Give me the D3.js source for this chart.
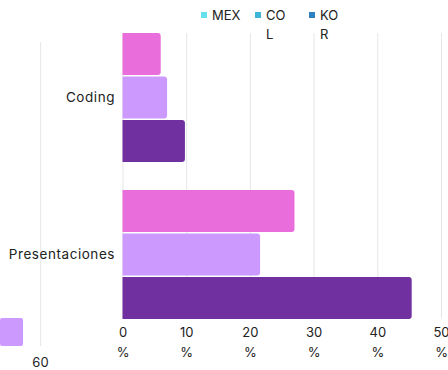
<!DOCTYPE html>
<html lang="en">
	<head>
		<meta charset="utf-8">
		<title>bars</title>
		<script src="https://d3js.org/d3.v7.min.js"></script>
		<style type="text/css">
		body { margin: 0; background: #fff; }
		text {
				font-family: Inter, "Noto Sans", sans-serif;
				font-size: 13px;
				fill: #222;
		}
		.grid line { stroke: #e6e6e6; stroke-width: 1; }
		.grid path { display: none; }
		</style>
	</head>
	<body>
		<script type="text/javascript">

					//Width and height
					var w = 448;
					var h = 370;

					// data
					var categories = ["Coding", "Presentaciones"];
					var series = ["MEX", "COL", "KOR"];
					var mex = [6, 27];
					var col = [7, 21.6];
					var kor = [9.8, 45.4];
					var xTicks = [0, 10, 20, 30, 40, 50];
					var legendColors = ["#66e0ec", "#3fb4d8", "#2e80bf"];
					var barColors = ["#ea6ddc", "#cc99ff", "#7030a0"];

					var values = [mex, col, kor];

					var x = d3.scaleLinear()
					.domain([0, 50])
					.range([122.5, 441]);

					var y = d3.scaleBand()
					.domain(categories)
					.range([33, 319])
					.paddingInner(0.178)
					.paddingOuter(0);

					var ySub = d3.scaleBand()
					.domain(series)
					.range([0, y.bandwidth()])
					.paddingInner(0.035);

					//Create SVG element
					var svg = d3.select("body")
					.append("svg")
					.attr("width", w)
					.attr("height", h);

					// grid lines
					svg.append("g")
					.attr("class", "grid")
					.attr("transform", "translate(0,33)")
					.call(d3.axisTop(x).tickValues(xTicks).tickSize(-285).tickFormat(""));

					// the 60 tick that wrapped to the left side
					var wrapX = x(60) - 464;
					svg.append("line")
					.attr("x1", wrapX).attr("x2", wrapX)
					.attr("y1", 42).attr("y2", 346)
					.attr("stroke", "#e6e6e6");
					svg.append("text")
					.attr("x", wrapX)
					.attr("y", 367)
					.attr("text-anchor", "middle")
					.style("letter-spacing", "0.3px")
					.text("60");

					// stray swatch at bottom left
					svg.append("rect")
					.attr("x", 0).attr("y", 318)
					.attr("width", 23).attr("height", 28)
					.attr("rx", 2)
					.attr("fill", barColors[1]);

					// bars, right end rounded
					function barPath(x0, x1, y0, hh) {
							var r = Math.min(3, (x1 - x0) / 2);
							return "M" + x0 + "," + y0 +
									"H" + (x1 - r) +
									"Q" + x1 + "," + y0 + " " + x1 + "," + (y0 + r) +
									"V" + (y0 + hh - r) +
									"Q" + x1 + "," + (y0 + hh) + " " + (x1 - r) + "," + (y0 + hh) +
									"H" + x0 + "Z";
					}

					series.forEach(function(s, si) {
							svg.append("g")
							.selectAll("path")
							.data(values[si])
							.enter()
							.append("path")
							.attr("fill", barColors[si])
							.attr("d", function(d, i) {
									return barPath(x(0), x(d), y(categories[i]) + ySub(s), ySub.bandwidth());
							});
					});

					// category labels
					svg.append("g")
					.attr("transform", "translate(122,0)")
					.call(d3.axisLeft(y).tickSize(0).tickPadding(7))
					.call(function(g) { g.select(".domain").remove(); })
					.selectAll("text")
					.style("font-family", "Inter, sans-serif")
					.style("font-size", "13.5px")
					.style("letter-spacing", "0.55px")
					.attr("fill", "#222");

					// x axis labels, wrapped onto two lines
					var xAxis = svg.append("g")
					.attr("transform", "translate(0,326)")
					.call(d3.axisBottom(x).tickValues(xTicks).tickSize(0).tickPadding(0)
							.tickFormat(function(d) { return d + " %"; }));
					xAxis.select(".domain").remove();
					xAxis.selectAll("text")
					.style("font-family", "Inter, sans-serif")
					.style("font-size", "13px")
					.attr("fill", "#222")
					.each(function() {
							var t = d3.select(this);
							var parts = t.text().split(" ");
							t.text(null).attr("y", 0).attr("dy", null);
							parts.forEach(function(p, k) {
									t.append("tspan")
									.attr("x", 0)
									.attr("y", 11 + k * 20)
									.text(p);
							});
					});

					// legend
					var legend = svg.append("g").selectAll("g")
					.data(series)
					.enter()
					.append("g")
					.attr("transform", function(d, i) { return "translate(" + (201 + i * 54) + ",0)"; });

					legend.append("rect")
					.attr("y", 12)
					.attr("width", 6)
					.attr("height", 6)
					.attr("fill", function(d, i) { return legendColors[i]; });

					legend.append("text")
					.attr("x", 11)
					.attr("y", 20)
					.each(function(d) {
							var t = d3.select(this);
							var lines = d.length > 2 && d !== "MEX" ? [d.slice(0, 2), d.slice(2)] : [d];
							lines.forEach(function(p, k) {
									t.append("tspan")
									.attr("x", 11)
									.attr("y", 20 + k * 19)
									.text(p);
							});
					});

		</script>
	</body>
</html>
